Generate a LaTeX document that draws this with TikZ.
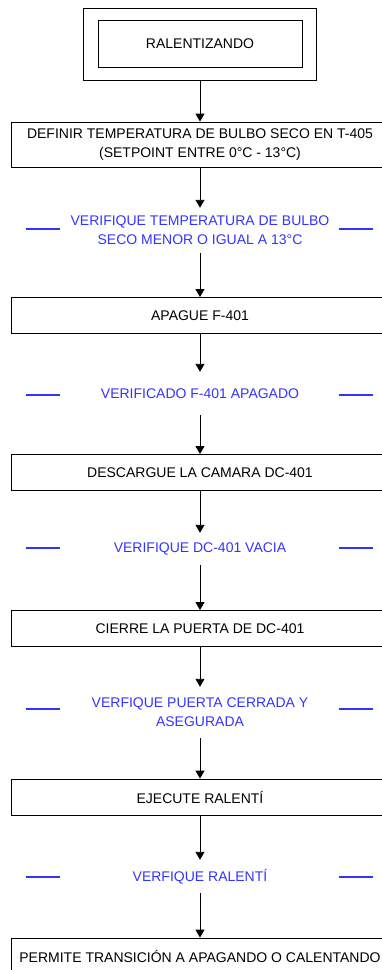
\documentclass[tikz,border=0pt]{standalone}
\usepackage{fontspec}
\setmainfont{Liberation Sans}
\usepackage{tikz}
\usetikzlibrary{arrows.meta,positioning}

\definecolor{verifblue}{RGB}{51,51,255}

\begin{document}
\begin{tikzpicture}
[x=1pt,y=-1pt,font=\fontsize{14}{19}\selectfont]
\tikzset{
	stepbox/.style = {rectangle, draw, line width=0.9pt, minimum width=378pt, minimum height=36pt, inner sep=0pt, align=center},
	verif/.style = {text=verifblue, align=center, inner sep=0pt, minimum height=36pt},
	vline/.style = {verifblue, line width=1.2pt},
	flow/.style = {-{Triangle[width=9pt,length=8pt]}, line width=0.9pt}
}
\useasboundingbox (0,0) rectangle (381,970);

% estado inicial
\node(outer) [rectangle, draw, line width=0.9pt, minimum width=233pt, minimum height=72pt] at (200,44) {};
\node(start) [rectangle, draw, line width=0.9pt, minimum width=204pt, minimum height=47pt] at (200,43.5) {RALENTIZANDO};

% pasos y verificaciones
\node(def) [stepbox, minimum height=45pt] at (200,144.5) {DEFINIR TEMPERATURA DE BULBO SECO EN T-405\\(SETPOINT ENTRE 0°C - 13°C)};
\node(v1) [verif, minimum height=45pt] at (200,230.5) {VERIFIQUE TEMPERATURA DE BULBO\\SECO MENOR O IGUAL A 13°C};
\node(apague) [stepbox] at (200,315.5) {APAGUE F-401};
\node(v2) [verif, minimum height=43pt] at (200,393.5) {VERIFICADO F-401 APAGADO};
\node(desc) [stepbox] at (200,472.5) {DESCARGUE LA CAMARA DC-401};
\node(v3) [verif, minimum height=32pt] at (200,549) {VERIFIQUE DC-401 VACIA};
\node(cierre) [stepbox] at (200,628.5) {CIERRE LA PUERTA DE DC-401};
\node(v4) [verif, minimum height=51pt] at (200,712.5) {VERFIQUE PUERTA CERRADA Y\\ASEGURADA};
\node(ejecute) [stepbox] at (200,797) {EJECUTE RALENTÍ};
\node(v5) [verif, minimum height=33pt] at (200,876.5) {VERFIQUE RALENTÍ};
\node(permite) [stepbox] at (200,956) {PERMITE TRANSICIÓN A APAGANDO O CALENTANDO};

\draw[flow] (outer.south) -- (def.north);
\draw[flow] (def) -- (v1);
\draw[flow] (v1) -- (apague);
\draw[flow] (apague) -- (v2);
\draw[flow] (v2) -- (desc);
\draw[flow] (desc) -- (v3);
\draw[flow] (v3) -- (cierre);
\draw[flow] (cierre) -- (v4);
\draw[flow] (v4) -- (ejecute);
\draw[flow] (ejecute) -- (v5);
\draw[flow] (v5) -- (permite);

% rayas azules
\draw[vline] ([shift={(-174,-1.5)}]v1.center) -- ([shift={(-140,-1.5)}]v1.center);
\draw[vline] ([shift={(139,-1.5)}]v1.center) -- ([shift={(173,-1.5)}]v1.center);
\foreach \v/\dy in {v2/1.5,v3/-1,v4/-3.5,v5/0.5}{
	\draw[vline] ([shift={(-174,\dy)}]\v.center) -- ([shift={(-140,\dy)}]\v.center);
	\draw[vline] ([shift={(139,\dy)}]\v.center) -- ([shift={(173,\dy)}]\v.center);
}

\end{tikzpicture}
\end{document}
